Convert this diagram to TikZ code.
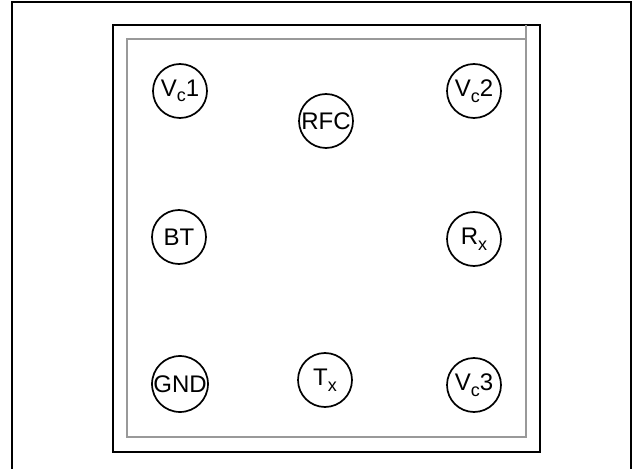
\documentclass[tikz,border=0pt]{standalone}
\usepackage{fontspec}
\setmainfont{Liberation Sans}
\newcommand{\sbs}[1]{\raisebox{-5.5bp}{\fontsize{18bp}{18bp}\selectfont #1}}
\begin{document}
\begin{tikzpicture}[x=1bp,y=-1bp,
  pin/.style={circle,draw=black,line width=1.7bp,minimum size=54bp,inner sep=0pt,
    font=\fontsize{24bp}{28bp}\selectfont},
  frame/.style={draw=black,line width=2.2bp},
  grayline/.style={draw=black!40,line width=1.6bp}]
\useasboundingbox (0,0) rectangle (634,469);
\draw[frame] (12,470) -- (12,2) -- (631,2) -- (631,470);
\draw[frame] (113,25) rectangle (540,452);
\draw[grayline] (526,25) -- (526,437) -- (127,437) -- (127,39) -- (526,39);
\node[pin] (vc1) at (180,91) {V\sbs{c}1};
\node[pin] (rfc) at (326,121) {RFC};
\node[pin] (vc2) at (474,91) {V\sbs{c}2};
\node[pin] (bt) at (179,237) {BT};
\node[pin] (rx) at (474,239) {R\sbs{x}};
\node[pin] (gnd) at (180,384) {GND};
\node[pin] (tx) at (325,380) {T\sbs{x}};
\node[pin] (vc3) at (474,385) {V\sbs{c}3};
\end{tikzpicture}
\end{document}
